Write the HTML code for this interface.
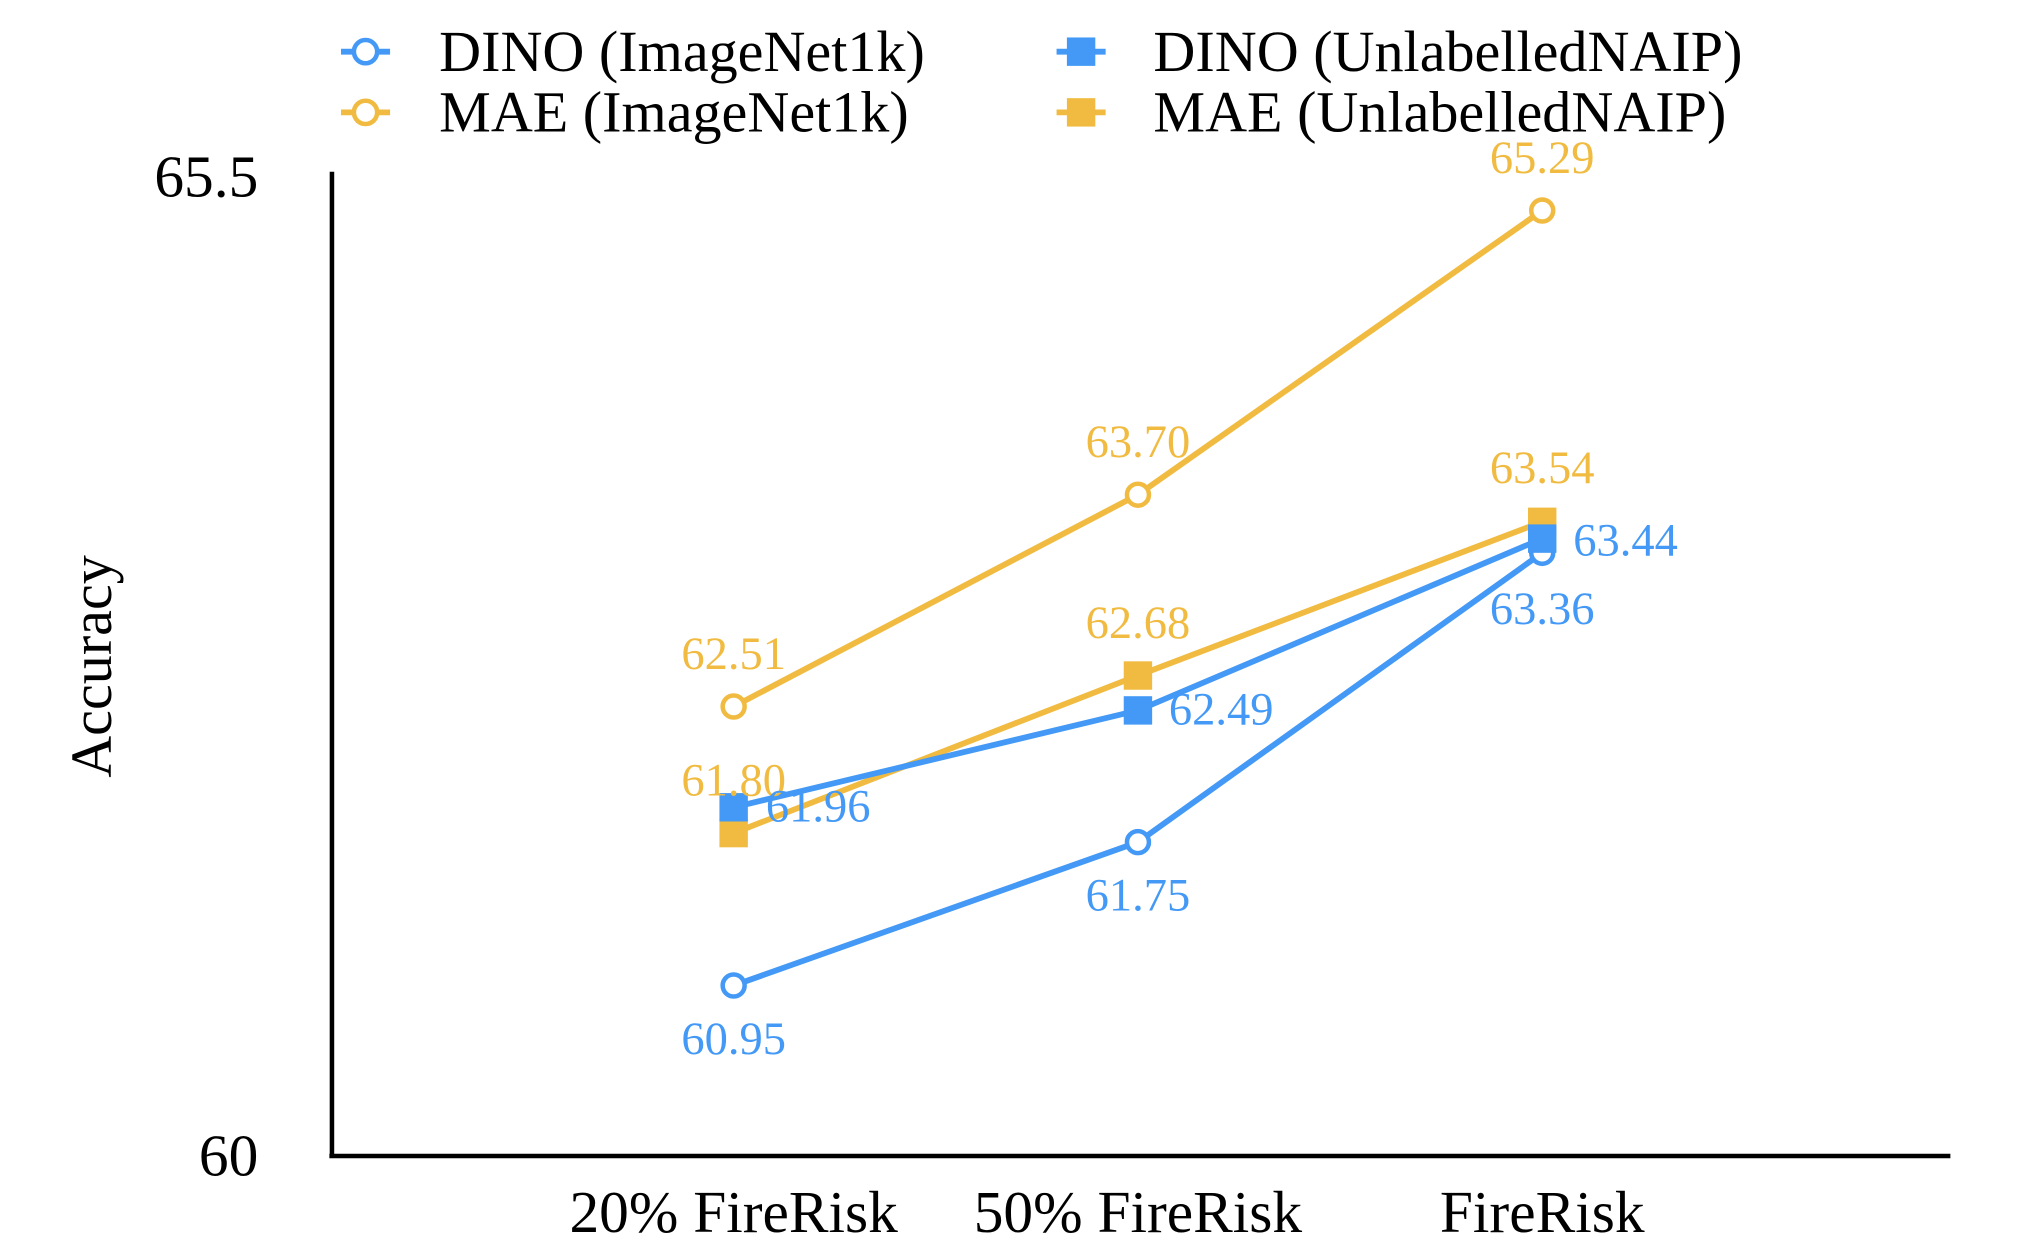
<!DOCTYPE html>
<html><head><style>html,body{margin:0;padding:0;background:#fff}svg{display:block}</style></head>
<body>
<svg width="2024" height="1260" viewBox="0 0 1567 975.5" preserveAspectRatio="none" font-family="Liberation Serif, serif">
<g stroke="#000" stroke-width="3.5" fill="none">
<line x1="257" y1="133" x2="257" y2="895"/>
<line x1="255" y1="895" x2="1510" y2="895"/>
</g>
<g font-size="46" text-anchor="end" fill="#000">
<text x="200" y="152">65.5</text>
<text x="200" y="910">60</text>
</g>
<text transform="translate(86,516) rotate(-90)" font-size="45" text-anchor="middle">Accuracy</text>
<g font-size="46" text-anchor="middle">
<text x="568" y="954">20% FireRisk</text>
<text x="881" y="954">50% FireRisk</text>
<text x="1194" y="954">FireRisk</text>
</g>
<g fill="none" stroke-width="4.5">
<polyline stroke="#f0bb40" points="568,547 881,383 1194,163"/>
<polyline stroke="#f0bb40" points="568,645 881,523 1194,404"/>
<polyline stroke="#4399f5" points="568,625 881,550 1194,417"/>
<polyline stroke="#4399f5" points="568,763 881,652 1194,428"/>
</g>
<g fill="#fff" stroke-width="3.5">
<circle cx="568" cy="547" r="8.5" stroke="#f0bb40"/>
<circle cx="881" cy="383" r="8.5" stroke="#f0bb40"/>
<circle cx="1194" cy="163" r="8.5" stroke="#f0bb40"/>
<circle cx="568" cy="763" r="8.5" stroke="#4399f5"/>
<circle cx="881" cy="652" r="8.5" stroke="#4399f5"/>
<circle cx="1194" cy="428" r="8.5" stroke="#4399f5"/>
</g>
<g fill="#f0bb40">
<rect x="557" y="634" width="22" height="22"/>
<rect x="870" y="512" width="22" height="22"/>
<rect x="1183" y="393" width="22" height="22"/>
</g>
<g fill="#4399f5">
<rect x="557" y="614" width="22" height="22"/>
<rect x="870" y="539" width="22" height="22"/>
<rect x="1183" y="406" width="22" height="22"/>
</g>
<g font-size="36" text-anchor="middle" fill="#f0bb40">
<text x="568" y="518">62.51</text>
<text x="881" y="354">63.70</text>
<text x="1194" y="134">65.29</text>
<text x="568" y="616">61.80</text>
<text x="881" y="494">62.68</text>
<text x="1194" y="374">63.54</text>
</g>
<g font-size="36" fill="#4399f5">
<text x="568" y="816" text-anchor="middle">60.95</text>
<text x="881" y="705" text-anchor="middle">61.75</text>
<text x="1194" y="483" text-anchor="middle">63.36</text>
<text x="593" y="636">61.96</text>
<text x="905" y="561">62.49</text>
<text x="1218" y="430">63.44</text>
</g>
<g stroke-width="4.5">
<line x1="264" y1="40" x2="302" y2="40" stroke="#4399f5"/>
<circle cx="283" cy="40" r="9" fill="#fff" stroke="#4399f5" stroke-width="3.5"/>
<line x1="264" y1="87" x2="302" y2="87" stroke="#f0bb40"/>
<circle cx="283" cy="87" r="9" fill="#fff" stroke="#f0bb40" stroke-width="3.5"/>
<line x1="818" y1="40" x2="856" y2="40" stroke="#4399f5"/>
<rect x="826" y="29" width="22" height="22" fill="#4399f5" stroke="none"/>
<line x1="818" y1="87" x2="856" y2="87" stroke="#f0bb40"/>
<rect x="826" y="76" width="22" height="22" fill="#f0bb40" stroke="none"/>
</g>
<g font-size="45" fill="#000">
<text x="340" y="55">DINO (ImageNet1k)</text>
<text x="340" y="102">MAE (ImageNet1k)</text>
<text x="893" y="55">DINO (UnlabelledNAIP)</text>
<text x="893" y="102">MAE (UnlabelledNAIP)</text>
</g>
</svg>
</body></html>
